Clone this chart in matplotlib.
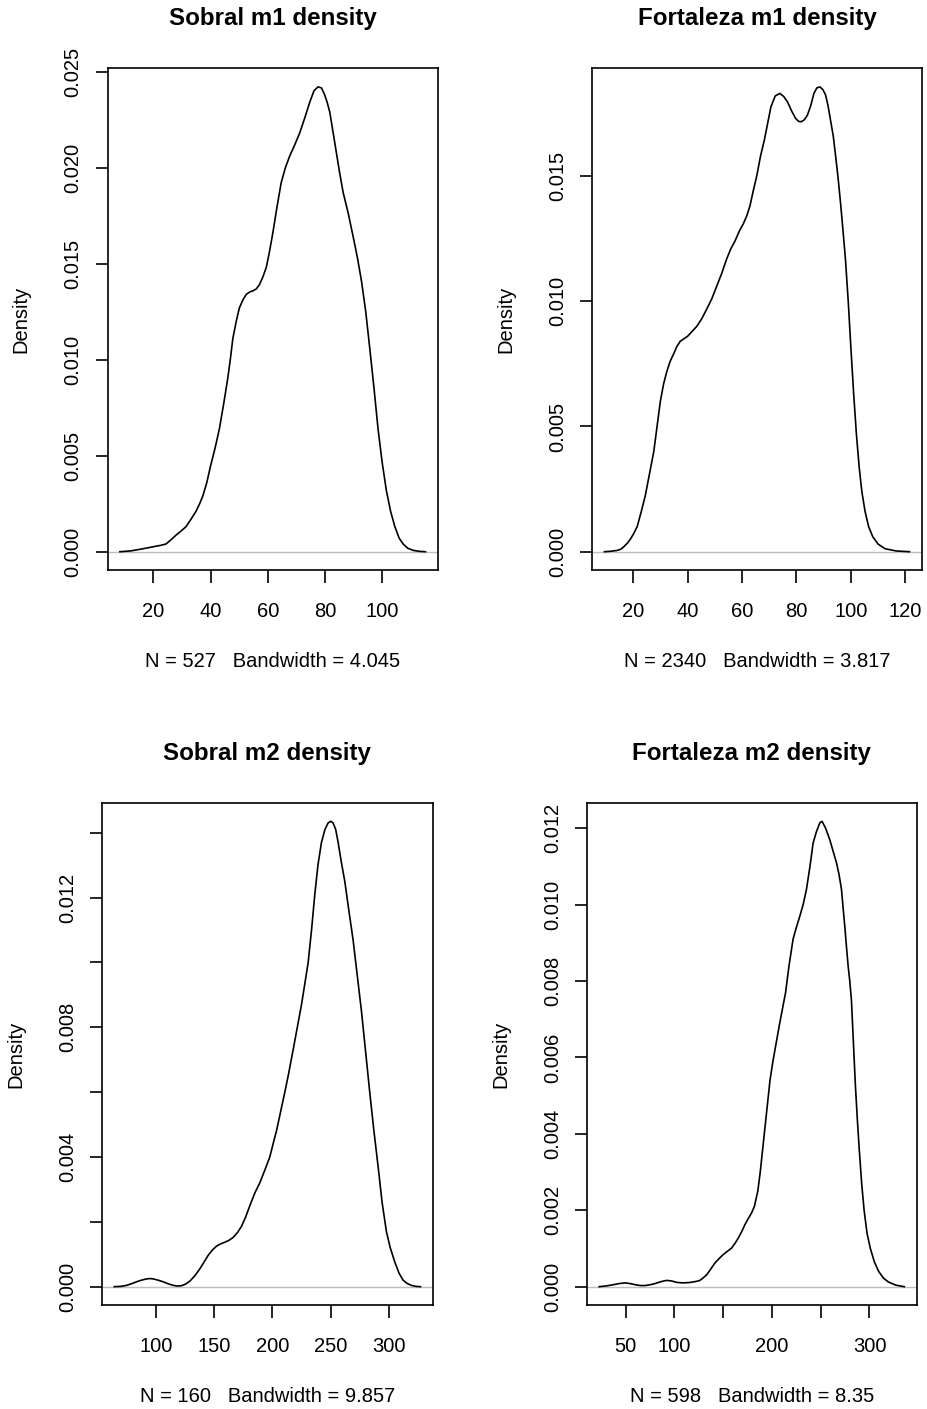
import matplotlib
matplotlib.use("Agg")
import matplotlib.pyplot as plt
import numpy as np

plt.rcParams['font.family'] = ['Liberation Sans', 'DejaVu Sans']

# ---------------- data ----------------
titles = ["Sobral m1 density", "Fortaleza m1 density",
          "Sobral m2 density", "Fortaleza m2 density"]
subtitles = ["N = 527   Bandwidth = 4.045", "N = 2340   Bandwidth = 3.817",
             "N = 160   Bandwidth = 9.857", "N = 598   Bandwidth = 8.35"]

sobral_m1_x = [8.3, 12.0, 15.1, 18.0, 20.0, 22.5, 24.4, 26.0, 27.9, 29.7, 31.4,
               33.2, 34.9, 36.2, 37.3, 38.7, 40.0, 41.6, 43.1, 44.6, 46.0, 47.0,
               47.8, 49.0, 50.1, 51.3, 52.5, 53.7, 54.8, 56.0, 57.1, 58.3, 59.5,
               60.6, 61.8, 63.2, 64.7, 66.2, 67.7, 69.5, 71.2, 73.0, 74.7, 76.2,
               77.6, 78.8, 79.9, 80.8, 81.7, 82.8, 84.0, 85.2, 86.4, 88.2, 89.9,
               91.4, 92.8, 94.3, 95.7, 97.2, 98.6, 100.0, 101.5, 103.0, 104.5,
               106.0, 107.4, 109.0, 110.9, 113.0, 115.2]
sobral_m1_y = [0.0, 0.00004, 0.00012, 0.0002, 0.00026, 0.00033, 0.0004, 0.0006,
               0.00086, 0.00108, 0.0013, 0.0017, 0.0021, 0.0025, 0.0029, 0.0036,
               0.00446, 0.0054, 0.0064, 0.0077, 0.0090, 0.0101, 0.0111, 0.0120,
               0.0127, 0.0131, 0.0134, 0.01352, 0.01358, 0.01368, 0.0139, 0.0143,
               0.0148, 0.0156, 0.0166, 0.0179, 0.0192, 0.0200, 0.0206, 0.0212,
               0.0218, 0.0226, 0.0234, 0.0240, 0.0242, 0.02415, 0.0238, 0.0234,
               0.0229, 0.0219, 0.0208, 0.0197, 0.0187, 0.0176, 0.0164, 0.0153,
               0.0141, 0.0125, 0.0106, 0.0085, 0.0064, 0.0047, 0.0032, 0.0021,
               0.0013, 0.0007, 0.0004, 0.00018, 0.00007, 0.00002, 0.0]

fortaleza_m1_x = [9.5, 12.0, 14.1, 15.5, 16.6, 17.8, 19.0, 20.2, 21.5, 23.0,
                  24.5, 26.0, 27.6, 28.8, 30.0, 31.2, 32.4, 33.6, 34.9, 36.1,
                  37.3, 38.6, 40.0, 41.7, 43.4, 45.2, 47.1, 48.9, 50.7, 52.5,
                  54.4, 55.9, 57.4, 59.0, 60.5, 61.7, 62.9, 64.1, 65.4, 66.8,
                  68.2, 69.4, 70.6, 72.2, 73.9, 75.3, 76.7, 78.2, 79.7, 80.8,
                  81.8, 82.9, 84.0, 85.2, 86.4, 87.5, 88.6, 89.7, 90.7, 91.6,
                  92.5, 93.5, 94.4, 95.3, 96.2, 97.1, 98.0, 99.0, 100.0, 101.0,
                  102.0, 103.0, 104.0, 105.2, 106.5, 108.0, 110.0, 112.5, 116.6,
                  121.5]
fortaleza_m1_y = [0.0, 0.00002, 0.00005, 0.0001, 0.0002, 0.00033, 0.0005,
                  0.00072, 0.001, 0.0016, 0.00225, 0.0031, 0.0040, 0.0050,
                  0.0060, 0.0067, 0.0072, 0.0076, 0.0079, 0.0082, 0.0084, 0.0085,
                  0.0086, 0.0088, 0.0090, 0.0093, 0.0097, 0.0101, 0.0106, 0.0111,
                  0.0117, 0.0121, 0.0124, 0.0128, 0.0131, 0.0134, 0.0138, 0.0144,
                  0.0150, 0.0158, 0.01644, 0.0171, 0.01776, 0.0182, 0.0183,
                  0.01818, 0.01796, 0.0176, 0.0173, 0.01718, 0.01717, 0.01725,
                  0.01743, 0.0178, 0.0183, 0.01852, 0.01856, 0.01845, 0.01823,
                  0.0178, 0.01723, 0.0166, 0.01577, 0.0149, 0.0139, 0.0128,
                  0.01165, 0.0100, 0.0081, 0.0063, 0.0047, 0.0034, 0.0024,
                  0.0016, 0.0010, 0.0006, 0.0003, 0.00012, 0.00003, 0.0]

sobral_m2_x = [64.3, 70.0, 74.9, 79.0, 83.4, 87.5, 92.0, 95.0, 97.7, 102.0,
               106.3, 110.5, 114.9, 118.5, 122.0, 125.5, 129.1, 133.5, 137.7,
               141.5, 144.9, 148.5, 152.0, 155.5, 159.1, 162.7, 166.3, 170.0,
               173.4, 177.0, 180.6, 185.0, 189.1, 193.5, 197.7, 200.5, 203.4,
               207.0, 210.6, 214.0, 217.7, 221.3, 224.9, 228.0, 230.6, 233.5,
               236.3, 239.0, 242.0, 245.0, 247.7, 250.0, 252.0, 254.2, 256.3,
               259.0, 262.0, 265.5, 269.1, 272.7, 276.3, 280.0, 283.4, 287.0,
               290.6, 294.0, 297.7, 301.0, 304.9, 308.5, 312.0, 315.5, 319.1,
               323.0, 326.9]
sobral_m2_y = [0.0, 0.00001, 0.00004, 0.00009, 0.00015, 0.0002, 0.00024,
               0.00025, 0.00024, 0.0002, 0.00015, 0.00009, 0.00004, 0.00002,
               0.00003, 0.00008, 0.00017, 0.00034, 0.00055, 0.00077, 0.00097,
               0.00113, 0.00125, 0.00132, 0.00137, 0.00143, 0.00152, 0.00167,
               0.00186, 0.00215, 0.0025, 0.0029, 0.0032, 0.0036, 0.0040, 0.0044,
               0.0048, 0.0054, 0.0060, 0.0066, 0.0073, 0.0080, 0.0087, 0.0094,
               0.0100, 0.0110, 0.0121, 0.0130, 0.0137, 0.0141, 0.0143, 0.01435,
               0.0143, 0.0141, 0.0137, 0.0131, 0.0125, 0.0116, 0.0107, 0.0096,
               0.0085, 0.0072, 0.0060, 0.0048, 0.0037, 0.0026, 0.0017, 0.0012,
               0.00076, 0.00042, 0.0002, 0.0001, 0.00004, 0.00001, 0.0]

fortaleza_m2_x = [22.9, 30.0, 37.0, 43.0, 49.3, 55.0, 60.0, 65.0, 69.8, 75.0,
                  80.0, 86.0, 92.0, 97.0, 103.0, 109.0, 116.0, 122.7, 126.2,
                  129.5, 133.0, 137.0, 141.5, 146.0, 150.0, 154.5, 158.6, 162.0,
                  165.4, 169.0, 172.2, 175.7, 179.1, 182.0, 185.5, 188.0, 190.5,
                  193.0, 195.5, 198.0, 201.0, 204.5, 208.0, 211.0, 214.0, 217.5,
                  221.7, 225.0, 228.6, 232.0, 235.4, 239.0, 242.2, 245.5, 249.1,
                  251.4, 255.0, 259.3, 262.7, 266.1, 268.7, 271.3, 273.0, 274.7,
                  276.4, 278.1, 279.8, 281.5, 283.5, 285.5, 287.5, 289.5, 292.0,
                  294.5, 297.5, 300.9, 305.0, 309.4, 314.5, 319.6, 327.0, 335.7]
fortaleza_m2_y = [0.0, 0.00002, 0.00005, 0.00008, 0.0001, 0.00008, 0.00005,
                  0.00003, 0.00003, 0.00005, 0.00008, 0.00013, 0.000165, 0.00015,
                  0.00011, 0.0001, 0.00011, 0.00014, 0.000165, 0.00023, 0.00031,
                  0.00045, 0.00062, 0.00074, 0.00084, 0.00093, 0.00101, 0.00113,
                  0.00127, 0.00144, 0.00162, 0.00178, 0.00193, 0.0021, 0.0025,
                  0.0030, 0.0036, 0.0042, 0.0048, 0.0054, 0.0059, 0.0064, 0.0069,
                  0.0073, 0.0077, 0.0084, 0.0091, 0.0094, 0.0097, 0.0100, 0.0104,
                  0.0110, 0.01161, 0.0119, 0.01214, 0.01218, 0.0120, 0.0117,
                  0.0114, 0.0111, 0.0108, 0.0104, 0.0099, 0.00943, 0.0089, 0.0084,
                  0.0080, 0.0075, 0.0064, 0.0053, 0.0044, 0.0036, 0.0027, 0.0020,
                  0.0014, 0.0010, 0.00065, 0.0004, 0.00022, 0.00012, 0.00004, 0.0]

xs = [sobral_m1_x, fortaleza_m1_x, sobral_m2_x, fortaleza_m2_x]
ys = [sobral_m1_y, fortaleza_m1_y, sobral_m2_y, fortaleza_m2_y]

x_ticks = [[20, 40, 60, 80, 100], [20, 40, 60, 80, 100, 120],
           [100, 150, 200, 250, 300], [50, 100, 150, 200, 250, 300]]
x_ticklabels = [["20", "40", "60", "80", "100"],
                ["20", "40", "60", "80", "100", "120"],
                ["100", "150", "200", "250", "300"],
                ["50", "100", "", "200", "", "300"]]
y_ticks = [[0.0, 0.005, 0.010, 0.015, 0.020, 0.025],
           [0.0, 0.005, 0.010, 0.015],
           [0.0, 0.002, 0.004, 0.006, 0.008, 0.010, 0.012, 0.014],
           [0.0, 0.002, 0.004, 0.006, 0.008, 0.010, 0.012]]
y_ticklabels = [["0.000", "0.005", "0.010", "0.015", "0.020", "0.025"],
                ["0.000", "0.005", "0.010", "0.015"],
                ["0.000", "", "0.004", "", "0.008", "", "0.012", ""],
                ["0.000", "0.002", "0.004", "0.006", "0.008", "0.010", "0.012"]]

# ---------------- layout ----------------
W, H = 928, 1409
DPI = 100
fig = plt.figure(figsize=(W / DPI, H / DPI), dpi=DPI)

# pixel boxes: left, right, top, bottom
boxes = [(107.7, 437.7, 68.3, 570.3), (592.3, 921.7, 68.3, 570.3),
         (102.0, 432.7, 802.7, 1305.3), (587.0, 916.5, 802.7, 1305.3)]

FS = 14.5
LW = 1.2
for i, (l, r, t, b) in enumerate(boxes):
    ax = fig.add_axes([l / W, 1 - b / H, (r - l) / W, (b - t) / H])
    x = np.array(xs[i]); y = np.array(ys[i])
    ax.axhline(0, color="#BEBEBE", lw=1.0, zorder=1)
    ax.plot(x, y, color="black", lw=LW, zorder=2, solid_joinstyle='round')
    xr = x.max() - x.min()
    ax.set_xlim(x.min() - 0.04 * xr, x.max() + 0.04 * xr)
    yr = y.max()
    ax.set_ylim(-0.04 * yr, 1.04 * yr)
    for s in ax.spines.values():
        s.set_linewidth(LW)
    ax.set_xticks(x_ticks[i], x_ticklabels[i])
    ax.set_yticks(y_ticks[i], y_ticklabels[i])
    ax.tick_params(axis='x', direction='out', length=9, width=LW, pad=14,
                   labelsize=FS)
    ax.tick_params(axis='y', direction='out', length=9, width=LW, pad=16,
                   labelsize=FS, labelrotation=90)
    for lab in ax.get_yticklabels():
        lab.set_ha('center')
        lab.set_va('center')
    ax.set_title(titles[i], fontsize=FS * 1.2, fontweight='bold', pad=31)
    ax.annotate(subtitles[i], xy=(0.5, 0), xycoords='axes fraction',
                xytext=(0, -69.4), textcoords='offset points',
                ha='center', va='baseline', fontsize=FS)
    ax.annotate("Density", xy=(0, 0.5), xycoords='axes fraction',
                xytext=(-62.3, 0), textcoords='offset points',
                ha='center', va='center', rotation=90, fontsize=FS)

fig.savefig("out.png", dpi=DPI)
